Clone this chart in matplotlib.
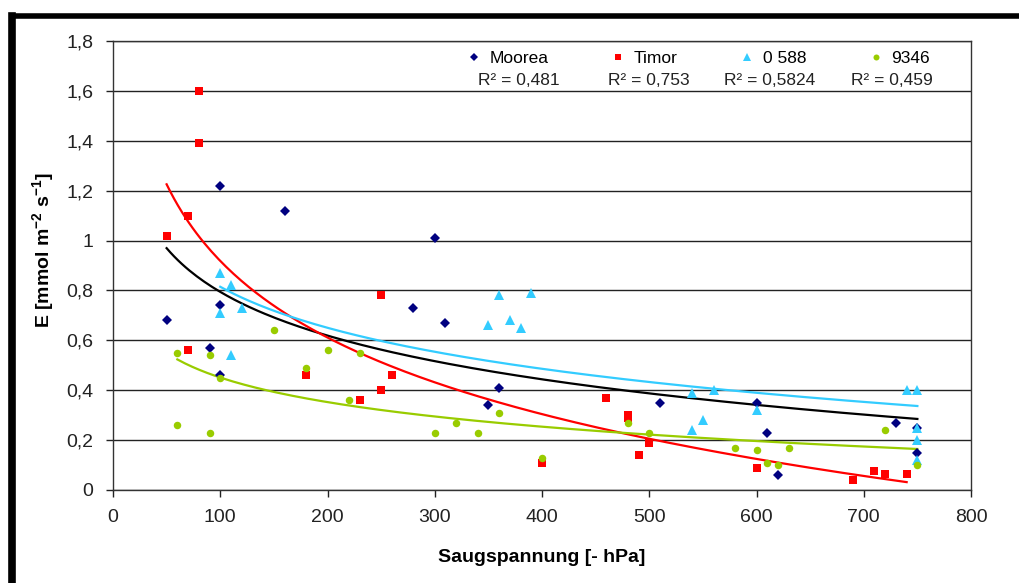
import numpy as np
import matplotlib
matplotlib.use("Agg")
import matplotlib.pyplot as plt
from matplotlib.lines import Line2D

plt.rcParams['font.family'] = ['Liberation Sans', 'DejaVu Sans']
plt.rcParams['mathtext.default'] = 'regular'

# Moorea
moorea_x = [50, 90, 100, 100, 100, 160, 280, 300, 310, 350, 360, 510, 600, 610, 620, 730, 750, 750]
moorea_y = [0.68, 0.57, 1.22, 0.74, 0.46, 1.12, 0.73, 1.01, 0.67, 0.34, 0.41, 0.35, 0.35, 0.23, 0.06, 0.27,
            0.15, 0.25]

# Timor
timor_x = [50, 70, 70, 80, 80, 180, 230, 250, 250, 260, 400, 460, 480, 480, 490, 500, 600, 690, 710, 720, 740]
timor_y = [1.02, 1.10, 0.56, 1.60, 1.39, 0.46, 0.36, 0.78, 0.40, 0.46, 0.11, 0.37, 0.30, 0.29, 0.14, 0.19,
           0.09, 0.04, 0.075, 0.065, 0.065]

# 0 588
c588_x = [100, 100, 110, 110, 120, 350, 360, 370, 380, 390, 540, 540, 550, 560, 600, 740, 750, 750, 750, 750]
c588_y = [0.87, 0.71, 0.82, 0.54, 0.73, 0.66, 0.78, 0.68, 0.65, 0.79, 0.39, 0.24, 0.28, 0.40, 0.32, 0.40,
          0.40, 0.25, 0.20, 0.12]

# 9346
c9346_x = [60, 60, 90, 90, 100, 150, 180, 200, 220, 230, 300, 320, 340, 360, 400, 480, 500, 580, 600, 610,
           620, 630, 720, 750]
c9346_y = [0.55, 0.26, 0.54, 0.23, 0.45, 0.64, 0.49, 0.56, 0.36, 0.55, 0.23, 0.27, 0.23, 0.31, 0.13, 0.27,
           0.23, 0.17, 0.16, 0.11, 0.10, 0.17, 0.24, 0.10]

names = ['Moorea', 'Timor', '0 588', '9346']
r2_labels = ['R² = 0,481', 'R² = 0,753', 'R² = 0,5824', 'R² = 0,459']

x_ticks = [0, 100, 200, 300, 400, 500, 600, 700, 800]
y_ticks = [0, 0.2, 0.4, 0.6, 0.8, 1.0, 1.2, 1.4, 1.6, 1.8]
y_tick_labels = ['0', '0,2', '0,4', '0,6', '0,8', '1', '1,2', '1,4', '1,6', '1,8']

series = [
    (moorea_x, moorea_y, 'D', '#000080', 'black', 5.2),
    (timor_x, timor_y, 's', '#ff0000', '#ff0000', 5.8),
    (c588_x, c588_y, '^', '#33ccff', '#33ccff', 6.8),
    (c9346_x, c9346_y, 'o', '#99cc00', '#99cc00', 5.4),
]

fig = plt.figure(figsize=(10.19, 5.83), dpi=100)
ax = fig.add_axes([113 / 1019, 1 - 490 / 583, 858 / 1019, 449 / 583])

for ypos in y_ticks:
    ax.axhline(ypos, color='#222222', lw=1.0, zorder=1)

handles = []
for (xs, ys, mk, col, tcol, ms), name in zip(series, names):
    xs = np.array(xs, dtype=float)
    ys = np.array(ys, dtype=float)
    # logarithmic trendline (as in Excel)
    a, b = np.polyfit(np.log(xs), ys, 1)
    xt = np.linspace(xs.min(), xs.max(), 200)
    ax.plot(xt, a * np.log(xt) + b, color=tcol, lw=1.6, zorder=3)
    h, = ax.plot(xs, ys, linestyle='none', marker=mk, color=col, markersize=ms,
                 markeredgewidth=0, zorder=4, label=name)
    handles.append(h)

ax.set_xlim(0, 800)
ax.set_ylim(0, 1.8)
ax.set_xticks(x_ticks)
ax.set_yticks(y_ticks)
ax.set_yticklabels(y_tick_labels)
ax.tick_params(axis='both', direction='out', length=5, width=1, color='#222222',
               labelsize=14, labelcolor='#222222')
ax.tick_params(axis='x', pad=9)
ax.tick_params(axis='y', pad=9)
for sp in ax.spines.values():
    sp.set_color('#333333')
    sp.set_linewidth(1.0)

ax.set_xlabel('Saugspannung [- hPa]', fontsize=14, fontweight='bold', va='center')
ax.xaxis.set_label_coords(0.5, -0.151)
ax.set_ylabel('E [mmol m$^{-2}$ s$^{-1}$]', fontsize=14, fontweight='bold', va='center')
ax.yaxis.set_label_coords(-0.082, 0.535)

leg = ax.legend(handles=handles, ncol=4, loc='center right', bbox_to_anchor=(0.952, 0.962),
                frameon=False, fontsize=12.5, handlelength=0.8, handletextpad=0.5,
                columnspacing=3.6, borderpad=0, borderaxespad=0, markerscale=0.8)

r2_right = [0.521, 0.6725, 0.819, 0.956]
for xr, txt in zip(r2_right, r2_labels):
    ax.text(xr, 0.911, txt, transform=ax.transAxes, ha='right', va='center', fontsize=12.5,
            color='#222222')

# thick chart-area border (cropped: only top and left visible)
fig.add_artist(Line2D([11.5 / 1019, 11.5 / 1019], [0, 1 - 15.5 / 583], color='black', lw=5.5,
                      transform=fig.transFigure, solid_capstyle='projecting'))
fig.add_artist(Line2D([11.5 / 1019, 1], [1 - 15.5 / 583, 1 - 15.5 / 583], color='black', lw=4,
                      transform=fig.transFigure, solid_capstyle='projecting'))

fig.savefig('out.png', dpi=100)
